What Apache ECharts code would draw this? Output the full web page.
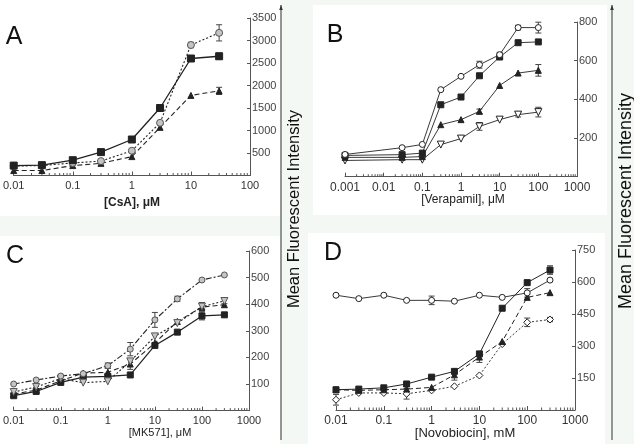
<!DOCTYPE html>
<html><head><meta charset="utf-8">
<script src="https://cdn.jsdelivr.net/npm/echarts@6/dist/echarts.min.js"></script>
<style>html,body{margin:0;padding:0;background:#f4f8f4}#c{width:634px;height:444px}</style>
</head><body><div id="c"></div>
<script>
// ---- Panel A: [CsA], µM ----
const xA = [0.01, 0.03, 0.1, 0.3, 1, 3, 10, 30];
const aSquare = [220, 230, 340, 520, 800, 1500, 2600, 2650];
const aSquareErr = [0, 0, 0, 0, 0, 0, 50, 70];
const aCircle = [210, 220, 280, 320, 550, 1170, 2900, 3170];
const aCircleErr = [0, 0, 0, 0, 0, 0, 60, 180];
const aTriangle = [110, 110, 220, 270, 420, 1070, 1780, 1880];
const aTriangleErr = [0, 0, 0, 0, 0, 0, 0, 80];
const xTicksA = ['0.01', '0.1', '1', '10', '100'];

// ---- Panel B: [Verapamil], µM ----
const xB = [0.001, 0.03, 0.1, 0.3, 1, 3, 10, 30, 100];
const bCircle = [115, 150, 167, 450, 519, 579, 631, 771, 771];
const bCircleErr = [0, 0, 0, 0, 0, 18, 12, 12, 28];
const bSquare = [110, 114, 122, 372, 412, 522, 619, 693, 697];
const bSquareErr = [0, 0, 0, 0, 0, 0, 0, 0, 0];
const bTriangle = [100, 100, 104, 269, 295, 338, 472, 536, 550];
const bTriangleErr = [0, 0, 0, 0, 0, 12, 0, 0, 30];
const bInvTriangle = [84, 88, 88, 166, 197, 260, 295, 321, 334];
const bInvTriangleErr = [0, 0, 0, 0, 0, 20, 0, 12, 25];
const xTicksB = ['0.001', '0.01', '0.1', '1', '10', '100', '1000'];

// ---- Panel C: [MK571], µM ----
const xC = [0.01, 0.03, 0.1, 0.3, 1, 3, 10, 30, 100, 300];
const cCircle = [100, 115, 130, 139, 169, 231, 341, 420, 491, 510];
const cCircleErr = [0, 0, 0, 0, 10, 25, 28, 10, 0, 0];
const cSquare = [56, 72, 106, 126, 129, 134, 245, 295, 356, 360];
const cSquareErr = [0, 0, 0, 0, 0, 0, 0, 0, 15, 0];
const cTriangle = [62, 77, 112, 141, 144, 175, 254, 335, 389, 398];
const cTriangleErr = [0, 0, 0, 0, 15, 20, 0, 0, 15, 0];
const cInvTriangle = [70, 89, 120, 105, 110, 185, 279, 329, 391, 412];
const cInvTriangleErr = [0, 0, 0, 0, 0, 0, 0, 0, 15, 10];
const xTicksC = ['0.01', '0.1', '1', '10', '100', '1000'];

// ---- Panel D: [Novobiocin], mM ----
const xD = [0.01, 0.03, 0.1, 0.3, 1, 3, 10, 30, 100, 300];
const dCircle = [538, 522, 538, 514, 514, 510, 538, 528, 549, 609];
const dCircleErr = [0, 0, 0, 0, 20, 0, 0, 0, 20, 0];
const dSquare = [95, 98, 104, 122, 154, 181, 263, 477, 597, 656];
const dSquareErr = [0, 0, 0, 0, 0, 0, 0, 0, 0, 20];
const dTriangle = [95, 92, 95, 98, 106, 165, 248, 321, 528, 550];
const dTriangleErr = [0, 0, 0, 0, 0, 25, 25, 0, 0, 0];
const dDiamond = [48, 80, 80, 76, 92, 111, 162, 309, 411, 424];
const dDiamondErr = [25, 0, 0, 25, 0, 0, 0, 0, 20, 10];
const xTicksD = ['0.01', '0.1', '1', '10', '100', '1000'];

const yMax = [3500, 800, 600, 750];
const yStep = [500, 200, 100, 150];
const xMin = [0.01, 0.001, 0.01, 0.01];
const xMax = [100, 1000, 1000, 1000];
const xTickSets = [xTicksA, xTicksB, xTicksC, xTicksD];

const FONT = '"Liberation Sans", Arial, sans-serif';
const INK = '#222';
const AX = '#555';
const GREY = '#c4c4c4';

const grids = [
  {left: 12, width: 238, top: 18, height: 157.5},
  {left: 345, width: 232, top: 22, height: 154.7},
  {left: 13, width: 236, top: 251, height: 159.6},
  {left: 336, width: 239, top: 250, height: 160}
];
const xLabelSize = [11, 12, 11, 12];
const yLabelSize = [11, 11, 11, 11];

const xAxes = grids.map((g, i) => ({
  type: 'log', logBase: 10, gridIndex: i, min: xMin[i], max: xMax[i],
  axisLine: {lineStyle: {color: AX, width: 1}},
  axisTick: {inside: true, length: 4, lineStyle: {color: AX}},
  splitLine: {show: false},
  axisLabel: {
    color: '#333', fontFamily: FONT, fontSize: xLabelSize[i], margin: 5,
    formatter: v => { const s = String(+(+v).toPrecision(3)); return xTickSets[i].includes(s) ? s : ''; }
  }
}));
const yAxes = grids.map((g, i) => ({
  type: 'value', gridIndex: i, position: 'right', min: 0, max: yMax[i], interval: yStep[i],
  axisLine: {show: true, lineStyle: {color: AX, width: 1}},
  axisTick: {show: true, inside: true, length: 3, lineStyle: {color: AX}},
  splitLine: {show: false},
  axisLabel: {color: '#444', fontFamily: FONT, fontSize: yLabelSize[i], margin: 2, showMinLabel: false,
    formatter: v => v === 0 ? '' : String(v)}
}));

const INV = 'path://M0,0L10,0L5,9Z';
function pairs(xs, ys) { return xs.map((x, k) => [x, ys[k]]); }
function line(gi, xs, ys, symbol, fill, border, dash, size, lw) {
  return {
    type: 'line', xAxisIndex: gi, yAxisIndex: gi, data: pairs(xs, ys),
    symbol: symbol, symbolSize: size || 6, showSymbol: true, z: 5,
    lineStyle: {color: INK, width: lw || 1.1, type: dash || 'solid'},
    itemStyle: {color: fill, borderColor: border || INK, borderWidth: 1, opacity: 1},
    emphasis: {disabled: true}, animation: false
  };
}
function errs(gi, xs, ys, es) {
  return {
    type: 'custom', xAxisIndex: gi, yAxisIndex: gi, z: 4, animation: false, silent: true,
    data: xs.map((x, k) => [x, ys[k], es[k]]),
    encode: {x: 0, y: 1},
    renderItem: (params, api) => {
      const e = api.value(2);
      if (!e) return null;
      const x = api.value(0), y = api.value(1);
      const a = api.coord([x, y + e]), b = api.coord([x, y - e]);
      const st = {stroke: '#444', lineWidth: 1};
      return {type: 'group', children: [
        {type: 'line', shape: {x1: a[0], y1: a[1], x2: b[0], y2: b[1]}, style: st},
        {type: 'line', shape: {x1: a[0] - 3, y1: a[1], x2: a[0] + 3, y2: a[1]}, style: st},
        {type: 'line', shape: {x1: b[0] - 3, y1: b[1], x2: b[0] + 3, y2: b[1]}, style: st}
      ]};
    }
  };
}
function minorTicks(gi) {
  const vals = [];
  for (let d = xMin[gi]; d < xMax[gi] * 0.999; d *= 10) {
    for (let m = 2; m <= 9; m++) vals.push([+(d * m).toPrecision(3), 0]);
  }
  return {
    type: 'custom', xAxisIndex: gi, yAxisIndex: gi, z: 3, animation: false, silent: true,
    data: vals, encode: {x: 0, y: 1}, clip: false,
    renderItem: (params, api) => {
      const p = api.coord([api.value(0), 0]);
      return {type: 'line', shape: {x1: p[0], y1: p[1], x2: p[0], y2: p[1] - 2.5},
        style: {stroke: AX, lineWidth: 1}};
    }
  };
}

const DOT = [2, 2], DASH = [5, 3], DASHDOT = [6, 2, 2, 2];
const series = [
  minorTicks(0), minorTicks(1), minorTicks(2), minorTicks(3),
  // A
  errs(0, xA, aSquare, aSquareErr), errs(0, xA, aCircle, aCircleErr), errs(0, xA, aTriangle, aTriangleErr),
  line(0, xA, aTriangle, 'triangle', INK, INK, DASH, 6),
  line(0, xA, aCircle, 'circle', GREY, '#555', DOT, 7),
  line(0, xA, aSquare, 'rect', INK, INK, 'solid', 7, 1.3),
  // B
  errs(1, xB, bCircle, bCircleErr), errs(1, xB, bSquare, bSquareErr), errs(1, xB, bTriangle, bTriangleErr), errs(1, xB, bInvTriangle, bInvTriangleErr),
  line(1, xB, bInvTriangle, INV, '#fff', INK, 'solid', 7, 0.9),
  line(1, xB, bTriangle, 'triangle', INK, INK, 'solid', 6, 0.9),
  line(1, xB, bSquare, 'rect', INK, INK, 'solid', 6, 0.9),
  line(1, xB, bCircle, 'circle', '#fff', INK, 'solid', 6, 0.9),
  // C
  errs(2, xC, cCircle, cCircleErr), errs(2, xC, cSquare, cSquareErr), errs(2, xC, cTriangle, cTriangleErr), errs(2, xC, cInvTriangle, cInvTriangleErr),
  line(2, xC, cSquare, 'rect', INK, INK, 'solid', 6, 1.2),
  line(2, xC, cTriangle, 'triangle', INK, INK, DASH, 6),
  line(2, xC, cInvTriangle, INV, GREY, '#555', DOT, 7),
  line(2, xC, cCircle, 'circle', GREY, '#555', DASHDOT, 6),
  // D
  errs(3, xD, dCircle, dCircleErr), errs(3, xD, dSquare, dSquareErr), errs(3, xD, dTriangle, dTriangleErr), errs(3, xD, dDiamond, dDiamondErr),
  line(3, xD, dDiamond, 'diamond', '#fff', INK, DOT, 7, 0.9),
  line(3, xD, dTriangle, 'triangle', INK, INK, DASH, 6, 1),
  line(3, xD, dCircle, 'circle', '#fff', INK, 'solid', 6, 0.9),
  line(3, xD, dSquare, 'rect', INK, INK, 'solid', 6, 1)
];

function txt(x, y, text, size, extra) {
  return Object.assign({type: 'text', x: x, y: y, z: 50,
    style: Object.assign({text: text, fill: '#111', fontFamily: FONT, fontSize: size, align: 'center', verticalAlign: 'middle'}, extra || {})});
}
function vtxt(x, y, text, size) {
  return {type: 'text', x: x, y: y, rotation: Math.PI / 2, z: 50,
    style: {text: text, fill: '#111', fontFamily: FONT, fontSize: size, align: 'center', verticalAlign: 'middle'}};
}
function arrow(x, y1, y2) {
  return [
    {type: 'line', z: 50, shape: {x1: x, y1: y2, x2: x, y2: y1}, style: {stroke: '#333', lineWidth: 1}},
    {type: 'polygon', z: 50, shape: {points: [[x - 1.8, y1 + 5], [x + 1.8, y1 + 5], [x, y1]]}, style: {fill: '#333'}}
  ];
}
const graphic = [
  {type: 'rect', z: -10, shape: {x: 0, y: 0, width: 280, height: 216}, style: {fill: '#fff'}},
  {type: 'rect', z: -10, shape: {x: 313, y: 5, width: 294, height: 210}, style: {fill: '#fff'}},
  {type: 'rect', z: -10, shape: {x: 0, y: 236, width: 280, height: 208}, style: {fill: '#fff'}},
  {type: 'rect', z: -10, shape: {x: 308, y: 233, width: 297, height: 211}, style: {fill: '#fff'}},
  txt(14, 37, 'A', 25), txt(335, 35, 'B', 25), txt(15, 256, 'C', 25), txt(333, 253, 'D', 25),
  txt(132, 203, '[CsA], μM', 12, {fontWeight: 'bold', fill: '#222'}),
  txt(463, 200, '[Verapamil], μM', 12, {fill: '#222'}),
  txt(160, 433, '[MK571], μM', 11, {fill: '#222'}),
  txt(465, 433, '[Novobiocin], mM', 13, {fill: '#222'}),
  vtxt(294, 209, 'Mean Fluorescent Intensity', 16.5),
  vtxt(626, 201, 'Mean Fluorescent Intensity', 18),
  ...arrow(281, 5, 440), ...arrow(612, 5, 440)
];

const chart = echarts.init(document.getElementById('c'), null, {renderer: 'canvas'});
chart.setOption({
  backgroundColor: '#f4f8f4',
  animation: false,
  grid: grids.map(g => Object.assign({containLabel: false}, g)),
  xAxis: xAxes, yAxis: yAxes,
  series: series,
  graphic: graphic
});
</script></body></html>
